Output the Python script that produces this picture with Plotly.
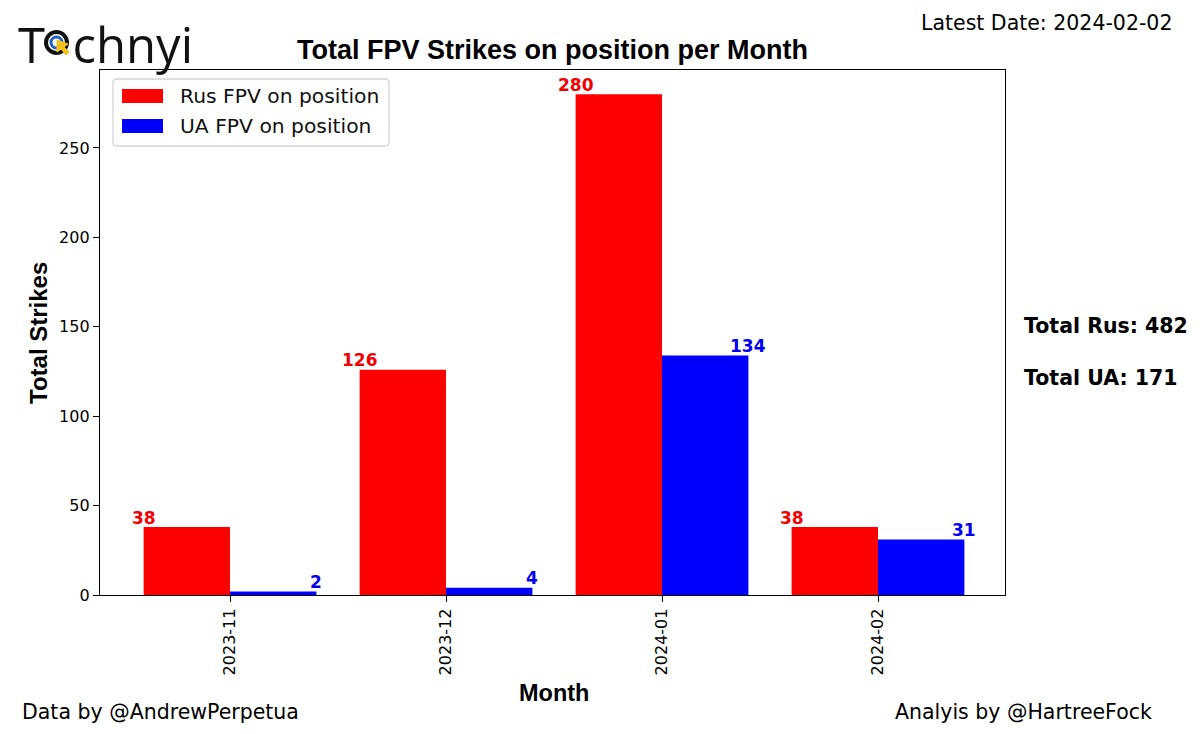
import plotly.graph_objects as go

months = ["2023-11", "2023-12", "2024-01", "2024-02"]
rus_values = [38, 126, 280, 38]
ua_values = [2, 4, 134, 31]
rus_name = "Rus FPV on position"
ua_name = "UA FPV on position"
title_text = "Total FPV Strikes on position per Month"
latest_date = "2024-02-02"
y_ticks = [0, 50, 100, 150, 200, 250]

OFF = 8  # browser body margin
W, H = 1200 - OFF, 734 - OFF
# plot area in screen pixels: x 100..1005, y 70..595
L, T = 100 - OFF, 70 - OFF
R, B = W - (1005 - OFF), H - (595 - OFF)
PW, PH = W - L - R, H - T - B


def px(x):
    return (x - OFF - L) / PW


def py(y):
    return (H - B - (y - OFF)) / PH


idx = list(range(len(months)))
fig = go.Figure()
fig.add_trace(go.Bar(x=idx, y=rus_values, name=rus_name, showlegend=False,
                     marker=dict(color="#ff0000", line=dict(width=0))))
fig.add_trace(go.Bar(x=idx, y=ua_values, name=ua_name, showlegend=False,
                     marker=dict(color="#0000ff", line=dict(width=0))))

annotations = []
for i, v in enumerate(rus_values):
    annotations.append(dict(x=i - 0.4, y=v, xref="x", yref="y", text=f"<b>{v}</b>", showarrow=False,
                            xanchor="center", yanchor="bottom", yshift=-2.5,
                            font=dict(family="DejaVu Sans", size=17, color="#ee0000")))
for i, v in enumerate(ua_values):
    annotations.append(dict(x=i + 0.4, y=v, xref="x", yref="y", text=f"<b>{v}</b>", showarrow=False,
                            xanchor="center", yanchor="bottom", yshift=-2.5,
                            font=dict(family="DejaVu Sans", size=17, color="#0000ee")))

TXT = 20.5
# titles
annotations.append(dict(x=px(552), y=py(50), xref="paper", yref="paper", text=f"<b>{title_text}</b>",
                        showarrow=False, xanchor="center", yanchor="middle",
                        font=dict(family="Liberation Sans", size=27, color="black")))
annotations.append(dict(x=px(38), y=py(333), xref="paper", yref="paper", text="<b>Total Strikes</b>",
                        showarrow=False, xanchor="center", yanchor="middle", textangle=-90,
                        font=dict(family="Liberation Sans", size=24, color="black")))
annotations.append(dict(x=px(554), y=py(693), xref="paper", yref="paper", text="<b>Month</b>",
                        showarrow=False, xanchor="center", yanchor="middle",
                        font=dict(family="Liberation Sans", size=23.5, color="black")))
# totals
annotations.append(dict(x=px(1022), y=py(326), xref="paper", yref="paper",
                        text=f"<b>Total Rus: {sum(rus_values)}</b>", showarrow=False,
                        xanchor="left", yanchor="middle",
                        font=dict(family="DejaVu Sans", size=TXT, color="black")))
annotations.append(dict(x=px(1022), y=py(378), xref="paper", yref="paper",
                        text=f"<b>Total UA: {sum(ua_values)}</b>", showarrow=False,
                        xanchor="left", yanchor="middle",
                        font=dict(family="DejaVu Sans", size=TXT, color="black")))
# header / footer
annotations.append(dict(x=px(1174), y=py(23), xref="paper", yref="paper",
                        text=f"Latest Date: {latest_date}", showarrow=False,
                        xanchor="right", yanchor="middle",
                        font=dict(family="DejaVu Sans", size=TXT, color="black")))
annotations.append(dict(x=px(20), y=py(712), xref="paper", yref="paper",
                        text="Data by @AndrewPerpetua", showarrow=False,
                        xanchor="left", yanchor="middle",
                        font=dict(family="DejaVu Sans", size=TXT, color="black")))
annotations.append(dict(x=px(1154), y=py(712), xref="paper", yref="paper",
                        text="Analyis by @HartreeFock", showarrow=False,
                        xanchor="right", yanchor="middle",
                        font=dict(family="DejaVu Sans", size=TXT, color="black")))
# legend texts
annotations.append(dict(x=px(178), y=py(96), xref="paper", yref="paper", text=rus_name,
                        showarrow=False, xanchor="left", yanchor="middle",
                        font=dict(family="DejaVu Sans", size=20.3, color="#111111")))
annotations.append(dict(x=px(178), y=py(126), xref="paper", yref="paper", text=ua_name,
                        showarrow=False, xanchor="left", yanchor="middle",
                        font=dict(family="DejaVu Sans", size=20.3, color="#111111")))
# logo
annotations.append(dict(x=px(16), y=py(9), xref="paper", yref="paper",
                        text="T<span style='color:rgba(0,0,0,0)'>e</span>chnyi", showarrow=False,
                        xanchor="left", yanchor="top",
                        font=dict(family="Open Sans", size=49, color="#111111")))


def rounded_rect(x0, y0, x1, y1, r):
    X = lambda v: px(v)
    Y = lambda v: py(v)
    return (f"M {X(x0 + r)},{Y(y0)} L {X(x1 - r)},{Y(y0)} Q {X(x1)},{Y(y0)} {X(x1)},{Y(y0 + r)} "
            f"L {X(x1)},{Y(y1 - r)} Q {X(x1)},{Y(y1)} {X(x1 - r)},{Y(y1)} "
            f"L {X(x0 + r)},{Y(y1)} Q {X(x0)},{Y(y1)} {X(x0)},{Y(y1 - r)} "
            f"L {X(x0)},{Y(y0 + r)} Q {X(x0)},{Y(y0)} {X(x0 + r)},{Y(y0)} Z")


shapes = [
    # legend box and patches
    dict(type="path", xref="paper", yref="paper", path=rounded_rect(113, 79, 389, 146, 4),
         fillcolor="white", line=dict(color="#d4d4d4", width=1.3), layer="above"),
    dict(type="rect", xref="paper", yref="paper", x0=px(122), x1=px(163), y0=py(103), y1=py(89),
         fillcolor="#ff0000", line=dict(width=0), layer="above"),
    dict(type="rect", xref="paper", yref="paper", x0=px(122), x1=px(163), y0=py(133), y1=py(119),
         fillcolor="#0000ff", line=dict(width=0), layer="above"),
    # logo icon
    dict(type="circle", xref="paper", yref="paper", x0=px(46), x1=px(67), y0=py(53), y1=py(32),
         line=dict(color="#111111", width=4)),
    dict(type="circle", xref="paper", yref="paper", x0=px(51), x1=px(62), y0=py(48), y1=py(37),
         line=dict(color="#1f5fbf", width=3)),
    dict(type="path", xref="paper", yref="paper",
         path=f"M {px(57)},{py(40)} L {px(57)},{py(52)} L {px(61)},{py(49)} L {px(66)},{py(55)} "
              f"L {px(69)},{py(52)} L {px(64)},{py(47)} L {px(68)},{py(44)} Z",
         fillcolor="#f2c21b", line=dict(color="#f2c21b", width=1)),
]

fig.update_layout(
    width=W, height=H,
    margin=dict(l=L, r=R, t=T, b=B),
    paper_bgcolor="white", plot_bgcolor="white",
    barmode="group", bargap=0.2, bargroupgap=0,
    showlegend=False,
    annotations=annotations,
    shapes=shapes,
    xaxis=dict(range=[-0.602, 3.588], tickmode="array", tickvals=idx, ticktext=months,
               tickangle=-90, ticks="outside", ticklen=6, tickcolor="black",
               showline=True, linecolor="black", linewidth=1.3, mirror=True,
               showgrid=False, zeroline=False,
               tickfont=dict(family="DejaVu Sans", size=16, color="black")),
    yaxis=dict(range=[0, 293.6], tickmode="array", tickvals=y_ticks,
               ticks="outside", ticklen=6, tickcolor="black",
               showline=True, linecolor="black", linewidth=1.3, mirror=True,
               showgrid=False, zeroline=False,
               tickfont=dict(family="DejaVu Sans", size=16, color="black")),
)

fig.write_html("out.html")
